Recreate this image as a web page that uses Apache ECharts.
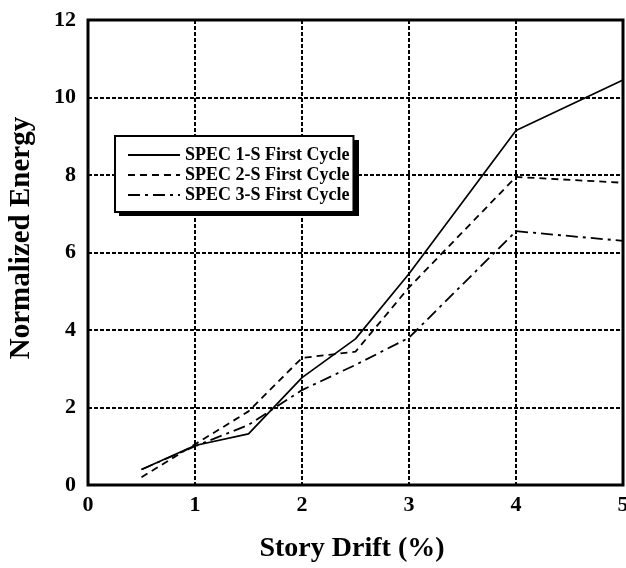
<!DOCTYPE html>
<html lang="en">
<head>
    <meta charset="UTF-8">
    <title>Normalized Energy</title>
    <script src="https://cdn.jsdelivr.net/npm/echarts@6/dist/echarts.min.js"></script>
    <style>
        html, body { margin: 0; padding: 0; background: #fff; }
    </style>
</head>
<body>
    <div id="main" style="width: 626px;height:568px;"></div>
    <script>
    var myChart = echarts.init(document.getElementById('main'));

    // story drift (%) and normalized energy, first cycle
    var drift = [0.5, 1, 1.5, 2, 2.5, 3, 4, 5];
    var spec1 = [0.4, 1.02, 1.32, 2.77, 3.77, 5.45, 9.15, 10.45];
    var spec2 = [0.2, 1.05, 1.9, 3.28, 3.44, 5.1, 7.95, 7.8];
    var spec3 = [0.4, 1.0, 1.55, 2.45, 3.1, 3.8, 6.55, 6.3];
    var names = ['SPEC 1-S First Cycle', 'SPEC 2-S First Cycle', 'SPEC 3-S First Cycle'];

    var font = '"Liberation Serif", "Times New Roman", serif';

    var pairs = function (ys) {
        var res = [];
        for (var i = 0; i < drift.length; i++) {
            res.push([drift[i], ys[i]]);
        }
        return res;
    };

    var gridLine = {
        show: true,
        lineStyle: { color: '#000', width: 2, type: [4, 2] }
    };

    var option = {
        animation: false,
        backgroundColor: '#fff',
        grid: {
            left: 88, right: 3, top: 20, bottom: 83,
            outerBoundsMode: 'none',
            containLabel: false,
            show: true,
            borderColor: '#000',
            borderWidth: 3
        },
        xAxis: {
            type: 'value',
            min: 0, max: 5, interval: 1,
            axisLine: { show: false },
            axisTick: { show: false },
            splitLine: gridLine,
            axisLabel: {
                margin: 9,
                color: '#000',
                fontFamily: font,
                fontWeight: 'bold',
                fontSize: 22
            }
        },
        yAxis: {
            type: 'value',
            min: 0, max: 12, interval: 2,
            axisLine: { show: false },
            axisTick: { show: false },
            splitLine: gridLine,
            axisLabel: {
                margin: 12,
                color: '#000',
                fontFamily: font,
                fontWeight: 'bold',
                fontSize: 22
            }
        },
        legend: {
            orient: 'vertical',
            left: 115, top: 136,
            z: 10,
            padding: [10, 4, 8, 12],
            itemGap: 2,
            itemWidth: 52,
            itemHeight: 14,
            backgroundColor: '#fff',
            borderColor: '#000',
            borderWidth: 2,
            itemStyle: { opacity: 0 },
            data: names,
            textStyle: {
                color: '#000',
                fontFamily: font,
                fontWeight: 'bold',
                fontSize: 18,
                lineHeight: 18
            }
        },
        graphic: [{
            // legend drop shadow
            type: 'rect',
            z: 5,
            shape: { x: 119, y: 140, width: 240, height: 76 },
            style: { fill: '#000' }
        }, {
            type: 'text',
            x: 22, y: 238,
            rotation: Math.PI / 2,
            style: {
                text: 'Normalized Energy',
                fill: '#000',
                font: 'bold 29px ' + font,
                align: 'center',
                verticalAlign: 'middle'
            }
        }, {
            type: 'text',
            x: 352, y: 549,
            style: {
                text: 'Story Drift (%)',
                fill: '#000',
                font: 'bold 28px ' + font,
                align: 'center',
                verticalAlign: 'middle'
            }
        }],
        series: [{
            name: names[0],
            type: 'line',
            symbol: 'none',
            lineStyle: { color: '#000', width: 1.7, type: 'solid' },
            data: pairs(spec1)
        }, {
            name: names[1],
            type: 'line',
            symbol: 'none',
            lineStyle: { color: '#000', width: 1.8, type: [7, 5] },
            data: pairs(spec2)
        }, {
            name: names[2],
            type: 'line',
            symbol: 'none',
            lineStyle: { color: '#000', width: 1.8, type: [12, 5, 3, 5] },
            data: pairs(spec3)
        }]
    };
    myChart.setOption(option);
    </script>
</body>
</html>
